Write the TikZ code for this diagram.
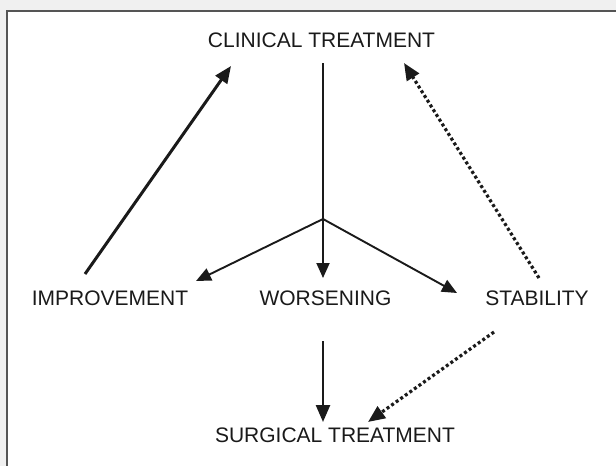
\documentclass[tikz,border=0pt]{standalone}
\usepackage{fontspec}
\setmainfont{Liberation Sans}
\usetikzlibrary{arrows.meta}
\definecolor{bggray}{HTML}{F0F0F0}
\definecolor{framegray}{HTML}{555555}
\definecolor{ink}{HTML}{1A1A1A}
\begin{document}
\begin{tikzpicture}[x=1pt,y=-1pt,
  lbl/.style={inner sep=0pt,anchor=base,font=\fontsize{21}{24}\selectfont,text=ink},
  bigarrow/.style={draw=ink,line width=3pt,-{Triangle[length=17pt,width=14pt]}},
  thinarrow/.style={draw=ink,line width=1.9pt,-{Triangle[length=15pt,width=13pt]}},
  dotarrow/.style={draw=ink,line width=3.2pt,dash pattern=on 3pt off 2.6pt,-{Triangle[length=17pt,width=14pt]}},
  stem/.style={draw=ink,line width=2.5pt}]
\useasboundingbox (0,0) rectangle (616,466);
\fill[bggray] (0,0) rectangle (616,466);
\fill[white] (7,11) rectangle (620,470);
\draw[framegray,line width=2pt] (7,470) -- (7,11) -- (620,11);

\node[lbl] (ct) at (321.5,47) {CLINICAL TREATMENT};
\node[lbl] (imp) at (110,305) {IMPROVEMENT};
\node[lbl] (wor) at (325.5,305) {WORSENING};
\node[lbl] (sta) at (537,305) {STABILITY};
\node[lbl] (st) at (335,442) {SURGICAL TREATMENT};

\coordinate (impTail) at (85,274);
\coordinate (ctLeft) at (231,66);
\coordinate (ctMid) at (323,63);
\coordinate (fork) at (323,219);
\coordinate (worTop) at (323,278);
\coordinate (impEnd) at (196,281);
\coordinate (staEnd) at (457,293);
\coordinate (staTail) at (539,278);
\coordinate (ctRight) at (404,63);
\coordinate (worBot) at (323,341);
\coordinate (stTop) at (323,422);
\coordinate (staBot) at (494,332);
\coordinate (stRight) at (368,422);

\draw[bigarrow] (impTail) -- (ctLeft);
\draw[stem] (ctMid) -- (fork);
\draw[thinarrow] (fork) -- (worTop);
\draw[thinarrow] (fork) -- (impEnd);
\draw[thinarrow] (fork) -- (staEnd);
\draw[dotarrow] (staTail) -- (ctRight);
\draw[bigarrow,line width=2.5pt] (worBot) -- (stTop);
\draw[dotarrow] (staBot) -- (stRight);
\end{tikzpicture}
\end{document}
